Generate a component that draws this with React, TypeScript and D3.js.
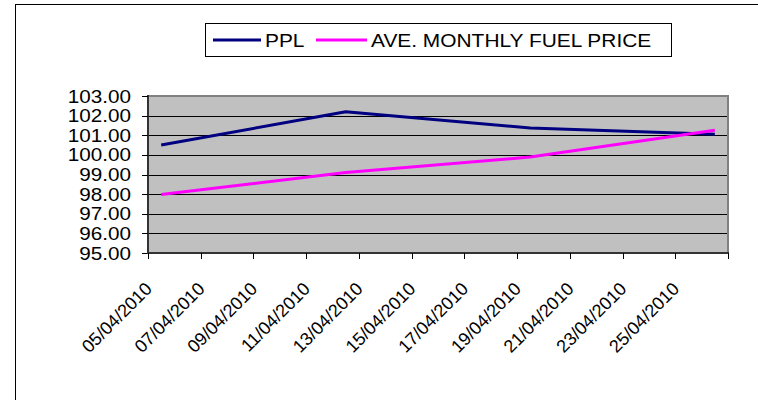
import React from 'react';
import * as d3 from 'd3';

// Weekly observations (Mondays), April 2010
const obsDates = ['2010-04-05', '2010-04-12', '2010-04-19', '2010-04-26'];
const pplValues = [100.5, 102.2, 101.37, 101.05];
const fuelValues = [97.98, 99.1, 99.89, 101.25];

const yTicks = [95, 96, 97, 98, 99, 100, 101, 102, 103];
const xTickLabels = [
  '05/04/2010', '07/04/2010', '09/04/2010', '11/04/2010', '13/04/2010', '15/04/2010',
  '17/04/2010', '19/04/2010', '21/04/2010', '23/04/2010', '25/04/2010',
];
const axisEnd = '2010-04-27';

const seriesNames = ['PPL', 'AVE. MONTHLY FUEL PRICE'];
const seriesColors = ['#000080', '#ff00ff'];

const W = 758;
const H = 400;
const plot = { left: 148, right: 728, top: 96, bottom: 253 };
const FONT = '"Liberation Sans", Arial, sans-serif';
const SX = 1.15; // the original picture is a little stretched sideways

const App: React.FC = () => {
  const parse = d3.utcParse('%Y-%m-%d');
  const parseLabel = d3.utcParse('%d/%m/%Y');

  const x = d3.scaleUtc()
    .domain([parse(obsDates[0])!, parse(axisEnd)!])
    .range([plot.left, plot.right]);
  const y = d3.scaleLinear().domain([95, 103]).range([plot.bottom, plot.top]);

  const tickDates = d3.utcDay.every(2)!.range(x.domain()[0], d3.utcDay.offset(x.domain()[1], 1));

  // points sit in the middle of their day
  const mid = (s: string) => d3.utcHour.offset(parse(s)!, 12);
  const line = d3.line<number>()
    .x((_, i) => x(mid(obsDates[i])))
    .y(d => y(d));

  const series = [pplValues, fuelValues];

  return (
    <svg width={W} height={H} style={{ position: 'absolute', left: 0, top: 0, background: '#fff' }}>
      {/* chart area border */}
      <rect x={15.5} y={4.5} width={W + 20} height={H + 20} fill="#fff" stroke="#000" strokeWidth={1} />

      {/* legend */}
      <rect x={205.5} y={23.5} width={466} height={33} fill="#fff" stroke="#000" strokeWidth={1} />
      <line x1={213} x2={261} y1={40} y2={40} stroke={seriesColors[0]} strokeWidth={3} />
      <text transform={`translate(265,47) scale(1.1,1)`} fontFamily={FONT} fontSize={19} fill="#000">
        {seriesNames[0]}
      </text>
      <line x1={316} x2={367} y1={40} y2={40} stroke={seriesColors[1]} strokeWidth={3} />
      <text transform={`translate(371,47) scale(1.1,1)`} fontFamily={FONT} fontSize={19} fill="#000">
        {seriesNames[1]}
      </text>

      {/* plot area */}
      <rect x={plot.left} y={plot.top} width={plot.right - plot.left} height={plot.bottom - plot.top} fill="#c0c0c0" />
      {yTicks.slice(1).map(t => (
        <line key={t} x1={plot.left} x2={plot.right} y1={Math.round(y(t)) + 0.5} y2={Math.round(y(t)) + 0.5}
          stroke="#000" strokeWidth={1} />
      ))}
      <line x1={plot.left} x2={plot.right + 1} y1={plot.top} y2={plot.top} stroke="#808080" strokeWidth={2} />
      <line x1={plot.right} x2={plot.right} y1={plot.top} y2={plot.bottom} stroke="#808080" strokeWidth={2} />

      {/* series */}
      {series.map((vals, i) => (
        <path key={i} d={line(vals) || ''} fill="none" stroke={seriesColors[i]} strokeWidth={3}
          strokeLinejoin="round" />
      ))}

      {/* y axis */}
      <line x1={plot.left} x2={plot.left} y1={plot.top - 1} y2={plot.bottom + 1} stroke="#333" strokeWidth={2} />
      {yTicks.map(t => (
        <g key={t}>
          <line x1={plot.left - 6} x2={plot.left} y1={Math.round(y(t)) + 0.5} y2={Math.round(y(t)) + 0.5}
            stroke="#000" strokeWidth={1} />
          <text transform={`translate(131,${y(t) + 6.5}) scale(${SX},1)`} textAnchor="end"
            fontFamily={FONT} fontSize={18} fill="#000">
            {d3.format('.2f')(t)}
          </text>
        </g>
      ))}

      {/* x axis */}
      <line x1={plot.left - 1} x2={plot.right + 1} y1={plot.bottom} y2={plot.bottom} stroke="#333" strokeWidth={2} />
      {tickDates.map((d, i) => (
        <line key={i} x1={Math.round(x(d)) + 0.5} x2={Math.round(x(d)) + 0.5} y1={plot.bottom} y2={plot.bottom + 6}
          stroke="#000" strokeWidth={1} />
      ))}
      {xTickLabels.map(l => {
        const px = x(parseLabel(l)!);
        return (
          <text key={l} transform={`translate(${px + 5},${plot.bottom + 37}) rotate(-45)`}
            textAnchor="end" fontFamily={FONT} fontSize={18} fill="#000">
            {l}
          </text>
        );
      })}
    </svg>
  );
};

export default App;
